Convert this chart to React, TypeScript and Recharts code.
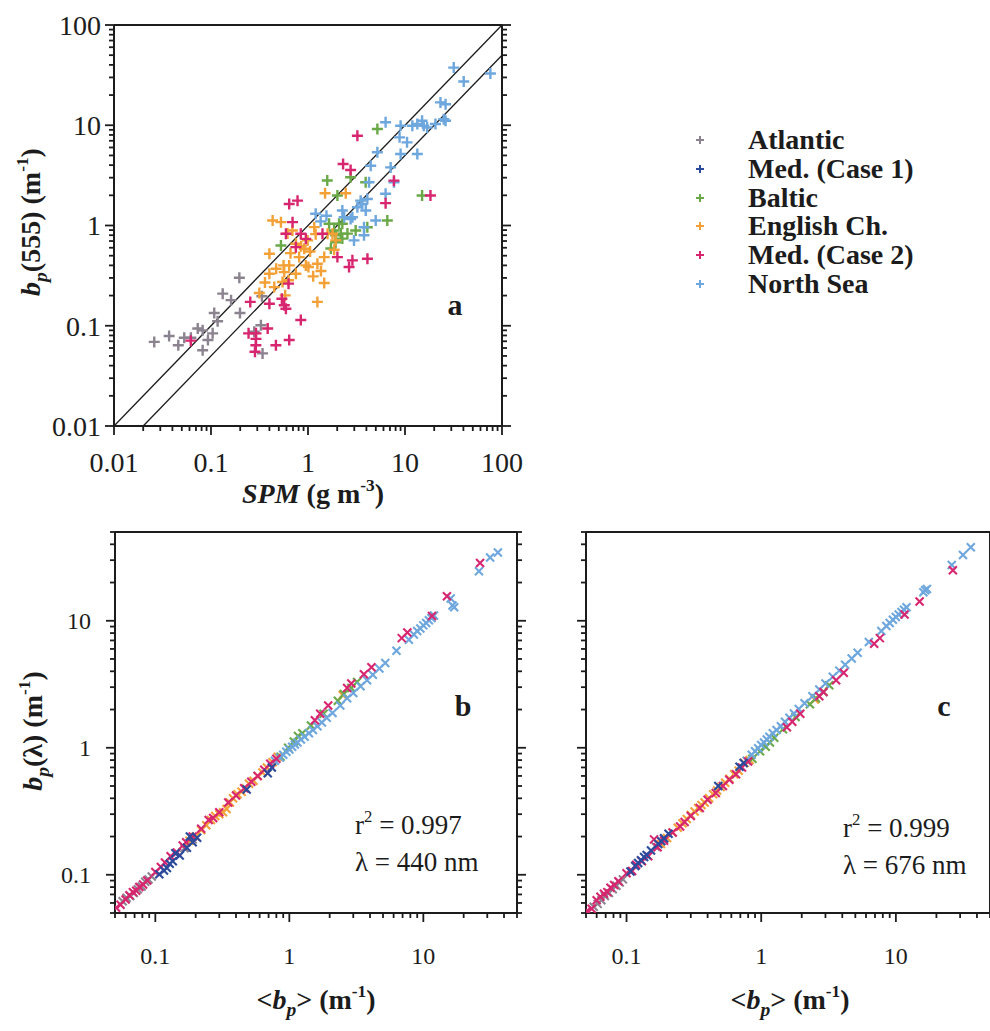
import React from 'react';
import { ScatterChart, Scatter, XAxis, YAxis, ReferenceLine } from 'recharts';

// ---- panel a : SPM (g m-3) vs bp(555) (m-1) ----
const atlanticSpm = [0.026, 0.037, 0.046, 0.053, 0.062, 0.073, 0.082, 0.082, 0.093, 0.104, 0.108, 0.117, 0.132, 0.161, 0.196, 0.199, 0.335, 0.327, 0.34, 0.279];
const atlanticBp555 = [0.069, 0.079, 0.064, 0.076, 0.076, 0.094, 0.09, 0.057, 0.072, 0.084, 0.134, 0.111, 0.209, 0.18, 0.301, 0.134, 0.197, 0.101, 0.053, 0.087];

const balticSpm = [0.526, 1.58, 2.01, 1.65, 1.86, 1.93, 2.09, 2.26, 2.18, 1.72, 1.93, 2.26, 2.55, 2.75, 3.93, 4.09, 5.19, 6.57, 15.0, 3.1];
const balticBp555 = [0.632, 2.81, 1.99, 1.04, 0.89, 0.8, 1.04, 1.04, 0.83, 0.59, 0.68, 0.74, 0.83, 3.03, 2.7, 0.96, 9.17, 1.12, 1.99, 0.89];

const englishSpm = [0.315, 0.4, 0.4, 0.449, 0.547, 0.569, 0.432, 0.526, 0.64, 0.63, 0.582, 0.75, 0.811, 0.914, 0.75, 0.99, 1.01, 1.13, 1.25, 1.36, 1.25, 1.47, 1.16, 1.5, 2.45, 1.79, 1.59, 1.93, 1.86, 1.47, 0.615, 0.69, 0.56, 0.47, 0.36, 0.85, 1.05, 0.95, 1.2, 0.66];
const englishBp555 = [0.212, 0.33, 0.523, 0.243, 0.273, 0.343, 1.12, 1.08, 0.4, 0.284, 0.201, 0.33, 0.484, 0.586, 0.658, 0.71, 0.385, 0.311, 0.416, 0.352, 0.173, 0.267, 0.963, 2.1, 2.1, 0.826, 0.826, 0.71, 0.573, 0.484, 0.83, 0.89, 0.4, 0.37, 0.27, 0.62, 0.55, 0.4, 0.82, 0.53];

const med2Spm = [0.062, 0.254, 0.244, 0.291, 0.291, 0.284, 0.29, 0.4, 0.384, 0.467, 0.538, 0.569, 0.592, 0.64, 0.63, 0.592, 0.64, 0.78, 0.693, 0.843, 0.75, 0.843, 0.95, 1.41, 2.01, 2.65, 2.87, 4.1, 2.3, 2.75, 3.23, 6.31, 7.69, 18.3];
const med2Bp555 = [0.071, 0.173, 0.084, 0.084, 0.074, 0.055, 0.064, 0.166, 0.094, 0.064, 0.186, 0.16, 0.148, 0.072, 0.263, 0.826, 1.64, 1.77, 1.08, 0.114, 0.608, 0.826, 0.736, 0.826, 0.484, 0.385, 0.449, 0.466, 4.11, 3.58, 7.87, 1.67, 2.8, 1.99];

const northSpm = [2.98, 2.75, 1.2, 1.35, 1.55, 2.26, 2.36, 2.87, 3.23, 3.49, 3.63, 3.78, 3.78, 3.94, 4.09, 4.26, 4.43, 4.99, 5.19, 6.31, 7.11, 7.7, 6.31, 8.79, 9.01, 9.01, 10.5, 11.9, 13.4, 13.4, 15.0, 15.6, 16.9, 20.6, 25.1, 23.2, 26.2, 26.2, 31.8, 40.3, 75.9];
const northBp555 = [0.71, 1.16, 1.31, 1.1, 1.25, 1.41, 1.21, 1.21, 1.52, 1.77, 1.64, 0.96, 0.8, 1.41, 1.84, 2.7, 3.95, 1.12, 5.37, 2.07, 3.8, 2.7, 10.7, 7.57, 5.16, 9.88, 6.75, 9.88, 5.16, 10.3, 11.1, 9.88, 9.5, 10.3, 11.5, 16.9, 16.2, 11.1, 37.6, 27.3, 32.8];

// ---- panels b and c : <bp> vs bp(440) and bp(676) (m-1) ----
const atlanticMean = [0.057, 0.061, 0.065, 0.069, 0.074, 0.079, 0.084, 0.089, 0.094, 0.165, 0.19];
const atlantic440 = [0.062, 0.066, 0.068, 0.072, 0.077, 0.081, 0.088, 0.092, 0.097, 0.162, 0.19];
const atlantic676 = [0.056, 0.059, 0.063, 0.068, 0.072, 0.077, 0.082, 0.087, 0.092, 0.166, 0.192];

const med1Mean = [0.107, 0.116, 0.122, 0.128, 0.135, 0.141, 0.152, 0.172, 0.181, 0.19, 0.205, 0.48, 0.69, 0.74];
const med1440 = [0.101, 0.108, 0.113, 0.122, 0.128, 0.148, 0.142, 0.163, 0.2, 0.18, 0.196, 0.47, 0.63, 0.7];
const med1676 = [0.106, 0.117, 0.124, 0.13, 0.138, 0.143, 0.155, 0.175, 0.184, 0.194, 0.21, 0.5, 0.71, 0.76];

const balticMean = [0.86, 0.98, 1.08, 1.16, 1.25, 1.45, 1.8, 2.3, 2.55, 2.9, 3.2];
const baltic440 = [0.85, 1.0, 1.12, 1.24, 1.3, 1.5, 1.85, 2.35, 2.65, 2.95, 3.3];
const baltic676 = [0.82, 0.94, 1.02, 1.1, 1.2, 1.4, 1.75, 2.2, 2.45, 2.75, 3.1];

const englishMean = [0.18, 0.2, 0.22, 0.24, 0.26, 0.28, 0.3, 0.32, 0.34, 0.36, 0.38, 0.41, 0.44, 0.47, 0.5, 0.54, 0.58, 0.63, 0.68, 0.75, 0.82, 2.5];
const english440 = [0.185, 0.2, 0.225, 0.245, 0.27, 0.29, 0.3, 0.31, 0.33, 0.37, 0.4, 0.43, 0.45, 0.48, 0.52, 0.55, 0.6, 0.64, 0.7, 0.77, 0.85, 2.6];
const english676 = [0.175, 0.195, 0.215, 0.235, 0.255, 0.275, 0.295, 0.315, 0.335, 0.355, 0.37, 0.4, 0.43, 0.46, 0.49, 0.53, 0.57, 0.62, 0.66, 0.76, 0.8, 2.4];

const med2Mean = [0.051, 0.055, 0.06, 0.064, 0.068, 0.072, 0.076, 0.081, 0.087, 0.1, 0.11, 0.118, 0.13, 0.145, 0.16, 0.17, 0.19, 0.22, 0.25, 0.27, 0.3, 0.35, 0.4, 0.46, 0.52, 0.58, 0.65, 0.72, 0.8, 1.55, 1.7, 1.95, 2.7, 2.9, 3.6, 4.1, 6.9, 7.6, 11.6, 15, 26.5];
const med2440 = [0.055, 0.058, 0.064, 0.069, 0.073, 0.075, 0.08, 0.084, 0.09, 0.105, 0.115, 0.125, 0.14, 0.15, 0.17, 0.18, 0.2, 0.23, 0.27, 0.28, 0.31, 0.37, 0.42, 0.48, 0.54, 0.6, 0.67, 0.75, 0.82, 1.65, 1.85, 2.15, 2.95, 3.2, 3.8, 4.3, 7.3, 8.1, 10.9, 15.6, 28.5];
const med2676 = [0.052, 0.054, 0.063, 0.067, 0.071, 0.073, 0.079, 0.083, 0.089, 0.103, 0.107, 0.12, 0.128, 0.14, 0.19, 0.165, 0.185, 0.215, 0.24, 0.26, 0.29, 0.335, 0.39, 0.44, 0.5, 0.56, 0.62, 0.7, 0.78, 1.45, 1.6, 1.85, 2.55, 2.75, 3.4, 3.9, 6.6, 7.3, 11.2, 14.2, 25];

const northMean = [0.78, 0.85, 0.9, 0.95, 1.0, 1.05, 1.1, 1.15, 1.22, 1.3, 1.4, 1.5, 1.62, 1.75, 1.9, 2.1, 2.4, 2.7, 3.0, 3.4, 3.8, 4.2, 4.7, 5.2, 6.3, 7.8, 8.5, 9.0, 9.5, 10.0, 10.5, 11.0, 11.5, 12.0, 16.0, 16.5, 17.0, 26.0, 31.5, 36.0];
const north440 = [0.79, 0.84, 0.88, 0.93, 0.97, 1.02, 1.06, 1.1, 1.16, 1.22, 1.3, 1.38, 1.48, 1.58, 1.72, 1.88, 2.15, 2.45, 2.7, 3.05, 3.4, 3.75, 4.2, 4.65, 5.8, 7.1, 7.8, 8.3, 8.7, 9.2, 9.6, 10.1, 10.5, 11.0, 15.0, 13.2, 12.8, 24.5, 31.5, 34.5];
const north676 = [0.79, 0.88, 0.94, 0.99, 1.05, 1.1, 1.16, 1.22, 1.3, 1.38, 1.48, 1.6, 1.72, 1.86, 2.02, 2.24, 2.55, 2.88, 3.2, 3.62, 4.05, 4.5, 5.05, 5.6, 6.8, 8.3, 9.1, 9.6, 10.2, 10.7, 11.2, 11.7, 12.2, 12.8, 16.8, 17.4, 17.8, 27.5, 33, 38];

// ---- ticks ----
const ticksA = [0.01, 0.02, 0.03, 0.04, 0.05, 0.06, 0.07, 0.08, 0.09, 0.1, 0.2, 0.3, 0.4, 0.5, 0.6, 0.7, 0.8, 0.9, 1, 2, 3, 4, 5, 6, 7, 8, 9, 10, 20, 30, 40, 50, 60, 70, 80, 90, 100];
const labelsA = [0.01, 0.1, 1, 10, 100];
const ticksBC = [0.05, 0.06, 0.07, 0.08, 0.09, 0.1, 0.2, 0.3, 0.4, 0.5, 0.6, 0.7, 0.8, 0.9, 1, 2, 3, 4, 5, 6, 7, 8, 9, 10, 20, 30, 40, 50];
const labelsBC = [0.1, 1, 10];

const colors = {
  atlantic: '#8b8390',
  med1: '#2c4a9c',
  baltic: '#6aa947',
  english: '#f3a137',
  med2: '#d7266f',
  north: '#6ea7dd',
};

const legendNames = ['Atlantic', 'Med. (Case 1)', 'Baltic', 'English Ch.', 'Med. (Case 2)', 'North Sea'];
const legendColors = [colors.atlantic, colors.med1, colors.baltic, colors.english, colors.med2, colors.north];

const zip = (xs: number[], ys: number[]) => xs.map((x, i) => ({ x, y: ys[i] }));

const seriesA = [
  { name: 'Atlantic', color: colors.atlantic, data: zip(atlanticSpm, atlanticBp555) },
  { name: 'Baltic', color: colors.baltic, data: zip(balticSpm, balticBp555) },
  { name: 'English Ch.', color: colors.english, data: zip(englishSpm, englishBp555) },
  { name: 'North Sea', color: colors.north, data: zip(northSpm, northBp555) },
  { name: 'Med. (Case 2)', color: colors.med2, data: zip(med2Spm, med2Bp555) },
];

const seriesB = [
  { name: 'Atlantic', color: colors.atlantic, data: zip(atlanticMean, atlantic440) },
  { name: 'English Ch.', color: colors.english, data: zip(englishMean, english440) },
  { name: 'Baltic', color: colors.baltic, data: zip(balticMean, baltic440) },
  { name: 'North Sea', color: colors.north, data: zip(northMean, north440) },
  { name: 'Med. (Case 2)', color: colors.med2, data: zip(med2Mean, med2440) },
  { name: 'Med. (Case 1)', color: colors.med1, data: zip(med1Mean, med1440) },
];

const seriesC = [
  { name: 'Atlantic', color: colors.atlantic, data: zip(atlanticMean, atlantic676) },
  { name: 'English Ch.', color: colors.english, data: zip(englishMean, english676) },
  { name: 'Baltic', color: colors.baltic, data: zip(balticMean, baltic676) },
  { name: 'North Sea', color: colors.north, data: zip(northMean, north676) },
  { name: 'Med. (Case 2)', color: colors.med2, data: zip(med2Mean, med2676) },
  { name: 'Med. (Case 1)', color: colors.med1, data: zip(med1Mean, med1676) },
];

const INK = '#1c1c1c';
const SERIF = '"Liberation Serif", "Times New Roman", serif';

const isDecade = (v: number) => Math.abs(Math.log10(v) - Math.round(Math.log10(v))) < 1e-6;

type TickOpts = { labels: number[] | null; fontSize?: number; gap?: number; offset?: number };

// tick drawn by hand so that decades get longer marks than the minor ticks
const makeTick = (side: 'bottom' | 'top' | 'left' | 'right', o: TickOpts) => (props: any) => {
  const { x, y, payload } = props;
  const v = payload.value;
  const major = isDecade(v);
  const len = major ? 9 : 5;
  const fs = o.fontSize ?? 22;
  const showLabel = o.labels && o.labels.some((l) => Math.abs(l - v) < 1e-9);
  let line;
  if (side === 'bottom') line = <line x1={x} y1={y} x2={x} y2={y + len} />;
  else if (side === 'top') line = <line x1={x} y1={y} x2={x} y2={y - len} />;
  else if (side === 'left') line = <line x1={x} y1={y} x2={x - len} y2={y} />;
  else line = <line x1={x} y1={y} x2={x + len} y2={y} />;
  return (
    <g stroke={INK} strokeWidth={1.8}>
      {line}
      {showLabel && side === 'bottom' && (
        <text x={x} y={y + (o.offset ?? 45)} textAnchor="middle" fontSize={fs} fontFamily={SERIF} fill={INK} stroke="none">{String(v)}</text>
      )}
      {showLabel && side === 'left' && (
        <text x={x - (o.gap ?? 14)} y={y} dy="0.35em" textAnchor="end" fontSize={fs} fontFamily={SERIF} fill={INK} stroke="none">{String(v)}</text>
      )}
    </g>
  );
};

const plusShape = (color: string, r: number, w: number) => (props: any) => {
  const { cx, cy } = props;
  if (cx == null || cy == null) return <g />;
  return <path d={`M${cx - r},${cy}H${cx + r}M${cx},${cy - r}V${cy + r}`} stroke={color} strokeWidth={w} fill="none" />;
};

const crossShape = (color: string, r: number, w: number) => (props: any) => {
  const { cx, cy } = props;
  if (cx == null || cy == null) return <g />;
  return <path d={`M${cx - r},${cy - r}L${cx + r},${cy + r}M${cx - r},${cy + r}L${cx + r},${cy - r}`} stroke={color} strokeWidth={w} fill="none" />;
};

const frame = { stroke: INK, strokeWidth: 2 };

type PanelProps = {
  width: number;
  height: number;
  margin: { top: number; right: number; bottom: number; left: number };
  domain: [number, number];
  ticks: number[];
  labels: number[];
  leftLabels: boolean;
  leftGap: number;
  leftWidth: number;
  fontSize: number;
  labelOffset: number;
  series: { name: string; color: string; data: { x: number; y: number }[] }[];
  marker: 'plus' | 'cross';
  lines?: boolean;
};

function LogPanel(p: PanelProps) {
  return (
    <ScatterChart width={p.width} height={p.height} margin={p.margin}>
      <XAxis xAxisId={0} dataKey="x" type="number" scale="log" domain={p.domain} allowDataOverflow ticks={p.ticks} interval={0}
        axisLine={frame} tickLine={false} tickSize={0} tickMargin={0} height={30}
        tick={makeTick('bottom', { labels: p.labels, fontSize: p.fontSize, offset: p.labelOffset })} />
      <XAxis xAxisId="top" orientation="top" type="number" scale="log" domain={p.domain} allowDataOverflow ticks={p.ticks} interval={0}
        axisLine={frame} tickLine={false} tickSize={0} tickMargin={0} height={10} tick={makeTick('top', { labels: null })} />
      <YAxis yAxisId={0} dataKey="y" type="number" scale="log" domain={p.domain} allowDataOverflow ticks={p.ticks} interval={0}
        axisLine={frame} tickLine={false} tickSize={0} tickMargin={0} width={p.leftWidth}
        tick={makeTick('left', { labels: p.leftLabels ? p.labels : null, fontSize: p.fontSize, gap: p.leftGap })} />
      <YAxis yAxisId="right" orientation="right" type="number" scale="log" domain={p.domain} allowDataOverflow ticks={p.ticks} interval={0}
        axisLine={frame} tickLine={false} tickSize={0} tickMargin={0} width={10} tick={makeTick('right', { labels: null })} />
      {p.lines && (
        <ReferenceLine xAxisId={0} yAxisId={0} segment={[{ x: 0.01, y: 0.01 }, { x: 100, y: 100 }]} stroke={INK} strokeWidth={1.3} ifOverflow="visible" />
      )}
      {p.lines && (
        <ReferenceLine xAxisId={0} yAxisId={0} segment={[{ x: 0.02, y: 0.01 }, { x: 100, y: 50 }]} stroke={INK} strokeWidth={1.3} ifOverflow="visible" />
      )}
      {p.series.map((s) => (
        <Scatter key={s.name} name={s.name} data={s.data} xAxisId={0} yAxisId={0} isAnimationActive={false}
          shape={p.marker === 'plus' ? plusShape(s.color, 5.5, 2.4) : crossShape(s.color, 4, 2.1)} />
      ))}
    </ScatterChart>
  );
}

const abs = (left: number, top: number, extra: React.CSSProperties = {}): React.CSSProperties => ({
  position: 'absolute', left, top, transform: 'translate(-50%, -50%)', whiteSpace: 'nowrap', ...extra,
});

const rot = (left: number, top: number): React.CSSProperties => ({
  position: 'absolute', left, top, transform: 'translate(-50%, -50%) rotate(-90deg)', whiteSpace: 'nowrap',
  fontWeight: 'bold', fontSize: 28,
});

const supStyle: React.CSSProperties = { fontSize: '0.62em', verticalAlign: '0.7em', lineHeight: 0 };
const subStyle: React.CSSProperties = { fontSize: '0.7em', verticalAlign: '-0.35em', lineHeight: 0 };

export default function App() {
  return (
    <div style={{ position: 'absolute', left: 0, top: 0, width: 990, height: 1031, overflow: 'hidden', background: '#fff', fontFamily: SERIF, color: INK }}>
      {/* panel a */}
      <div style={{ position: 'absolute', left: 0, top: 0 }}>
        <LogPanel width={540} height={490} margin={{ top: 15, right: 28, bottom: 34, left: 54 }} domain={[0.01, 100]}
          ticks={ticksA} labels={labelsA} leftLabels leftGap={13} leftWidth={60} fontSize={28} labelOffset={46}
          series={seriesA} marker="plus" lines />
      </div>
      {/* panel b */}
      <div style={{ position: 'absolute', left: 0, top: 480 }}>
        <LogPanel width={540} height={551} margin={{ top: 42, right: 13, bottom: 88, left: 55 }} domain={[0.05, 50]}
          ticks={ticksBC} labels={labelsBC} leftLabels leftGap={24} leftWidth={60} fontSize={24} labelOffset={51}
          series={seriesB} marker="cross" />
      </div>
      {/* panel c */}
      <div style={{ position: 'absolute', left: 540, top: 480 }}>
        <LogPanel width={460} height={551} margin={{ top: 42, right: 0, bottom: 88, left: 6 }} domain={[0.05, 50]}
          ticks={ticksBC} labels={labelsBC} leftLabels={false} leftGap={24} leftWidth={40} fontSize={24} labelOffset={51}
          series={seriesC} marker="cross" />
      </div>

      {/* axis titles */}
      <div style={rot(31, 222)}>
        <i>b</i><sub style={subStyle}><i>p</i></sub>(555) (m<sup style={supStyle}>-1</sup>)
      </div>
      <div style={abs(313, 494, { fontWeight: 'bold', fontSize: 28 })}>
        <i>SPM</i> (g m<sup style={supStyle}>-3</sup>)
      </div>
      <div style={rot(33, 731)}>
        <i>b</i><sub style={subStyle}><i>p</i></sub>(λ) (m<sup style={supStyle}>-1</sup>)
      </div>
      <div style={abs(316, 1000, { fontWeight: 'bold', fontSize: 28 })}>
        &lt;<i>b</i><sub style={subStyle}><i>p</i></sub>&gt; (m<sup style={supStyle}>-1</sup>)
      </div>
      <div style={abs(790, 1000, { fontWeight: 'bold', fontSize: 28 })}>
        &lt;<i>b</i><sub style={subStyle}><i>p</i></sub>&gt; (m<sup style={supStyle}>-1</sup>)
      </div>

      {/* panel letters */}
      <div style={abs(455, 305, { fontWeight: 'bold', fontSize: 30 })}>a</div>
      <div style={abs(463, 706, { fontWeight: 'bold', fontSize: 30 })}>b</div>
      <div style={abs(944, 706, { fontWeight: 'bold', fontSize: 30 })}>c</div>

      {/* annotations */}
      <div style={{ position: 'absolute', left: 355, top: 807, fontSize: 27, lineHeight: '37px', whiteSpace: 'nowrap' }}>
        <div>r<sup style={supStyle}>2</sup> = 0.997</div>
        <div>λ = 440 nm</div>
      </div>
      <div style={{ position: 'absolute', left: 843, top: 810, fontSize: 27, lineHeight: '37px', whiteSpace: 'nowrap' }}>
        <div>r<sup style={supStyle}>2</sup> = 0.999</div>
        <div>λ = 676 nm</div>
      </div>

      {/* legend */}
      {legendNames.map((name, i) => (
        <div key={name} style={{ position: 'absolute', left: 690, top: 140 + i * 28.8, transform: 'translateY(-50%)', display: 'flex', alignItems: 'center', whiteSpace: 'nowrap' }}>
          <svg width={20} height={20} style={{ marginRight: 38 }}>
            <path d="M6,10H14M10,6V14" stroke={legendColors[i]} strokeWidth={2} fill="none" />
          </svg>
          <span style={{ fontWeight: 'bold', fontSize: 28 }}>{name}</span>
        </div>
      ))}
    </div>
  );
}
